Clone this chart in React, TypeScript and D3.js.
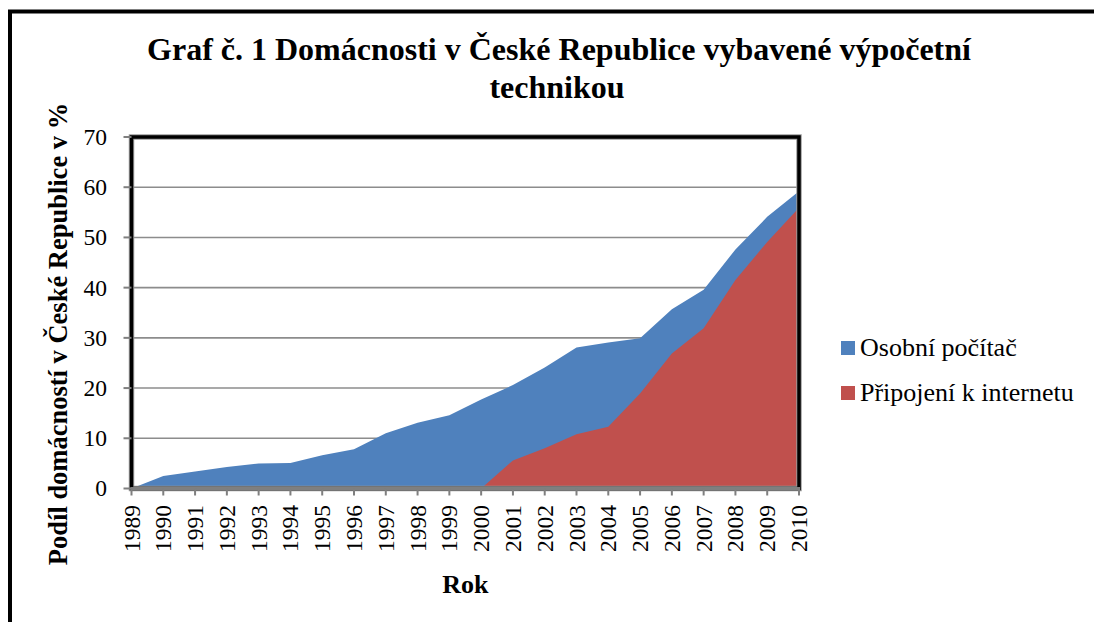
import React, { useEffect, useRef } from "react";
import * as d3 from "d3";

const years = [
  "1989", "1990", "1991", "1992", "1993", "1994", "1995", "1996", "1997", "1998", "1999",
  "2000", "2001", "2002", "2003", "2004", "2005", "2006", "2007", "2008", "2009", "2010",
];
const osobniPocitac = [
  0, 2.5, 3.4, 4.3, 5.0, 5.1, 6.6, 7.8, 11.0, 13.1, 14.6,
  17.7, 20.6, 24.1, 28.1, 29.1, 29.9, 35.7, 39.6, 47.6, 54.1, 59.2,
];
const pripojeniInternet = [
  0, 0, 0, 0, 0, 0, 0, 0, 0, 0, 0,
  0, 5.6, 8.0, 10.8, 12.3, 18.9, 26.9, 31.9, 41.5, 49.1, 55.9,
];
const yTicks = [0, 10, 20, 30, 40, 50, 60, 70];
const seriesNames = ["Osobní počítač", "Připojení k internetu"];
const seriesColors = ["#4F81BD", "#C0504D"];

const FONT = "'Liberation Serif', 'Times New Roman', serif";

const App = () => {
  const ref = useRef<SVGSVGElement | null>(null);

  useEffect(() => {
    const svg = d3.select(ref.current);
    svg.selectAll("*").remove();

    const width = 1094;
    const height = 622;
    const left = 131.5, right = 799, top = 137, bottom = 488.5;

    svg.attr("width", width).attr("height", height);

    // outer frame (only top + left visible)
    svg.append("path")
      .attr("d", `M10,${height} L10,11.5 L${width},11.5`)
      .attr("fill", "none")
      .attr("stroke", "#000")
      .attr("stroke-width", 4);

    const x = d3.scalePoint().domain(years).range([left, right]);
    const y = d3.scaleLinear().domain([0, 70]).range([bottom, top]);

    // gridlines
    svg.append("g")
      .selectAll("line")
      .data(yTicks.filter((t) => t > 0 && t < 70))
      .enter()
      .append("line")
      .attr("x1", left).attr("x2", right)
      .attr("y1", (d) => y(d)).attr("y2", (d) => y(d))
      .attr("stroke", "#8c8c8c")
      .attr("stroke-width", 1.6);

    // areas: PC first, internet on top
    const series = [osobniPocitac, pripojeniInternet];
    series.forEach((vals, i) => {
      const area = d3.area<number>()
        .x((_, j) => x(years[j]) as number)
        .y0(y(0))
        .y1((d) => y(d));
      svg.append("path")
        .datum(vals)
        .attr("d", area)
        .attr("fill", seriesColors[i]);
    });

    // plot border
    svg.append("rect")
      .attr("x", left).attr("y", top)
      .attr("width", right - left).attr("height", bottom - top)
      .attr("fill", "none")
      .attr("stroke", "#9a9a9a")
      .attr("stroke-width", 5.5);
    svg.append("rect")
      .attr("x", left).attr("y", top)
      .attr("width", right - left).attr("height", bottom - top)
      .attr("fill", "none")
      .attr("stroke", "#000")
      .attr("stroke-width", 3.5);

    // x axis line and ticks
    svg.append("line")
      .attr("x1", left - 1).attr("x2", right + 1)
      .attr("y1", bottom).attr("y2", bottom)
      .attr("stroke", "#7f7f7f")
      .attr("stroke-width", 3);
    svg.append("g")
      .selectAll("line")
      .data(years)
      .enter()
      .append("line")
      .attr("x1", (d) => x(d) as number).attr("x2", (d) => x(d) as number)
      .attr("y1", bottom).attr("y2", bottom + 7)
      .attr("stroke", "#7f7f7f")
      .attr("stroke-width", 2);

    svg.append("g")
      .selectAll("text")
      .data(years)
      .enter()
      .append("text")
      .attr("transform", (d) => `translate(${x(d)},505) rotate(-90)`)
      .attr("dy", "0.34em")
      .attr("text-anchor", "end")
      .style("font-family", FONT)
      .style("font-size", "23.5px")
      .style("fill", "#000")
      .text((d) => d);

    // y ticks
    svg.append("g")
      .selectAll("line")
      .data(yTicks)
      .enter()
      .append("line")
      .attr("x1", left - 8).attr("x2", left)
      .attr("y1", (d) => y(d)).attr("y2", (d) => y(d))
      .attr("stroke", "#7f7f7f")
      .attr("stroke-width", 2);

    svg.append("g")
      .selectAll("text")
      .data(yTicks)
      .enter()
      .append("text")
      .attr("x", 107)
      .attr("y", (d) => y(d))
      .attr("dy", "0.34em")
      .attr("text-anchor", "end")
      .style("font-family", FONT)
      .style("font-size", "23.5px")
      .style("fill", "#000")
      .text((d) => d);

    // title
    const title = svg.append("text")
      .attr("text-anchor", "middle")
      .style("font-family", FONT)
      .style("font-size", "32px")
      .style("font-weight", "bold");
    title.append("tspan").attr("x", 559).attr("y", 60)
      .text("Graf č. 1 Domácnosti v České Republice vybavené výpočetní");
    title.append("tspan").attr("x", 557).attr("y", 98).text("technikou");

    // axis titles
    svg.append("text")
      .attr("transform", "translate(67,334) rotate(-90)")
      .attr("text-anchor", "middle")
      .style("font-family", FONT)
      .style("font-size", "26.5px")
      .style("font-weight", "bold")
      .text("Podíl domácností v České Republice v %");

    svg.append("text")
      .attr("x", (left + right) / 2)
      .attr("y", 593)
      .attr("text-anchor", "middle")
      .style("font-family", FONT)
      .style("font-size", "26px")
      .style("font-weight", "bold")
      .text("Rok");

    // legend
    const legendY = [348, 393];
    seriesNames.forEach((name, i) => {
      svg.append("rect")
        .attr("x", 841).attr("y", legendY[i] - 7)
        .attr("width", 14).attr("height", 14)
        .attr("fill", seriesColors[i]);
      svg.append("text")
        .attr("x", 860).attr("y", legendY[i] + 8)
        .style("font-family", FONT)
        .style("font-size", "26px")
        .text(name);
    });
  }, []);

  return (
    <svg ref={ref} style={{ position: "absolute", left: 0, top: 0, background: "#fff" }}></svg>
  );
};

export default App;
